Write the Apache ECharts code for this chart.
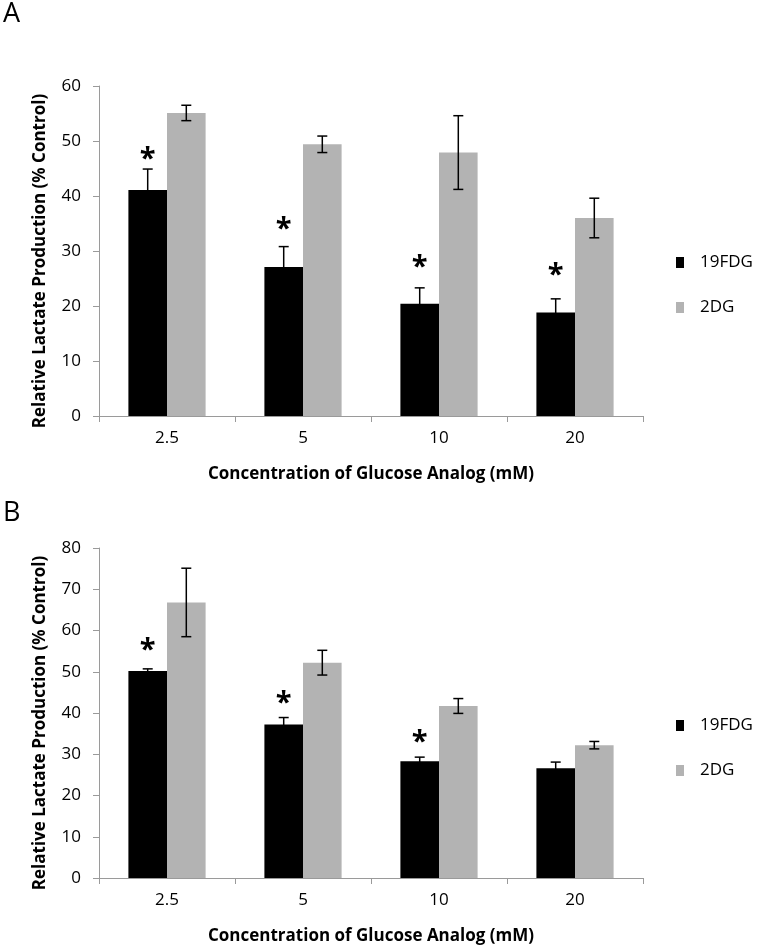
<!DOCTYPE html>
<html>
<head>
<meta charset="utf-8">
<script src="https://cdn.jsdelivr.net/npm/echarts@6/dist/echarts.min.js"></script>
<style>html,body{margin:0;padding:0;background:#fff;}#c{width:759px;height:951px;}</style>
</head>
<body>
<div id="c"></div>
<script>
// ---- data ----
var categories = ['2.5', '5', '10', '20'];
var seriesNames = ['19FDG', '2DG'];
// Panel A
var a19FDG = [41.1, 27.1, 20.4, 18.8];
var a19FDGErr = [3.8, 3.7, 2.9, 2.5];
var a2DG = [55.1, 49.4, 47.9, 36.0];
var a2DGErr = [1.4, 1.5, 6.7, 3.6];
var aStarLevel = [48.0, 35.3, 28.4, 26.9];      // height of the significance asterisk
// Panel B
var b19FDG = [50.2, 37.2, 28.3, 26.6];
var b19FDGErr = [0.5, 1.7, 1.0, 1.5];
var b2DG = [66.8, 52.2, 41.7, 32.2];
var b2DGErr = [8.3, 3.0, 1.8, 0.9];
var bStarLevel = [57.0, 44.0, 34.7, null];
var aYTicks = {min: 0, max: 60, interval: 10};
var bYTicks = {min: 0, max: 80, interval: 10};
var xTitle = 'Concentration of Glucose Analog (mM)';
var yTitle = 'Relative Lactate Production (% Control)';

// ---- styling ----
var FONT = '"Open Sans", "Noto Sans", sans-serif';
var BLACK = '#000000';
var GRAY = '#b3b3b3';
var AXIS = '#9a9a9a';
var BAR_W = 38.6;

var chart = echarts.init(document.getElementById('c'), null, {renderer: 'canvas'});

function grid(top) {
  return {left: 99, width: 544, top: top, height: 330, containLabel: false};
}
function xAxis(gi) {
  return {
    type: 'category', gridIndex: gi, data: categories,
    axisLine: {lineStyle: {color: AXIS, width: 1}},
    axisTick: {show: true, length: 6, lineStyle: {color: AXIS}},
    axisLabel: {color: '#000', fontFamily: FONT, fontSize: 17, margin: 14},
    name: xTitle, nameLocation: 'middle', nameGap: 50,
    nameTextStyle: {color: '#000', fontFamily: FONT, fontSize: 17, fontWeight: 'bold'}
  };
}
function yAxis(gi, t) {
  return {
    type: 'value', gridIndex: gi, min: t.min, max: t.max, interval: t.interval,
    splitLine: {show: false},
    axisLine: {show: true, lineStyle: {color: AXIS, width: 1}},
    axisTick: {show: true, length: 6, lineStyle: {color: AXIS}},
    axisLabel: {color: '#000', fontFamily: FONT, fontSize: 17, margin: 18},
    name: yTitle, nameLocation: 'middle', nameGap: 50,
    nameTextStyle: {color: '#000', fontFamily: FONT, fontSize: 17, fontWeight: 'bold', padding: [0, 20, 0, 0]}
  };
}
function bars(gi, v1, v2) {
  return [
    {name: seriesNames[0], type: 'bar', xAxisIndex: gi, yAxisIndex: gi, data: v1,
     barWidth: BAR_W, barGap: '0%', itemStyle: {color: BLACK}, silent: true},
    {name: seriesNames[1], type: 'bar', xAxisIndex: gi, yAxisIndex: gi, data: v2,
     barWidth: BAR_W, barGap: '0%', itemStyle: {color: GRAY}, silent: true}
  ];
}
function errSeries(gi, vals, errs, side) {
  var data = vals.map(function (v, i) { return [i, v, errs[i]]; });
  return {
    type: 'custom', xAxisIndex: gi, yAxisIndex: gi, data: data, silent: true, z: 5,
    renderItem: function (params, api) {
      var i = api.value(0), v = api.value(1), e = api.value(2);
      var off = side * BAR_W / 2;
      var hi = api.coord([i, v + e]);
      var lo = api.coord([i, v - e]);
      var x = hi[0] + off;
      var cap = 5;
      var st = {stroke: '#000', lineWidth: 1.5};
      return {type: 'group', children: [
        {type: 'line', shape: {x1: x, y1: hi[1], x2: x, y2: lo[1]}, style: st},
        {type: 'line', shape: {x1: x - cap, y1: hi[1], x2: x + cap, y2: hi[1]}, style: st},
        {type: 'line', shape: {x1: x - cap, y1: lo[1], x2: x + cap, y2: lo[1]}, style: st}
      ]};
    }
  };
}
function starSeries(gi, levels) {
  var data = [];
  levels.forEach(function (v, i) { if (v != null) data.push([i, v]); });
  return {
    type: 'custom', xAxisIndex: gi, yAxisIndex: gi, data: data, silent: true, z: 6,
    renderItem: function (params, api) {
      var p = api.coord([api.value(0), api.value(1)]);
      return {type: 'text', x: p[0] - BAR_W / 2, y: p[1] + 22,
        style: {text: '*', fill: '#000', font: 'bold 29px ' + FONT, align: 'center', verticalAlign: 'bottom'}};
    }
  };
}
function legend(top) {
  return {
    orient: 'vertical', left: 676, top: top, padding: 0, itemWidth: 8, itemHeight: 11, itemGap: 28,
    icon: 'rect', data: seriesNames, selectedMode: false,
    textStyle: {color: '#000', fontFamily: FONT, fontSize: 17, padding: [0, 0, 0, 11]}
  };
}

var option = {
  backgroundColor: '#fff',
  animation: false,
  grid: [grid(86), grid(548)],
  xAxis: [xAxis(0), xAxis(1)],
  yAxis: [yAxis(0, aYTicks), yAxis(1, bYTicks)],
  legend: [legend(254), legend(717)],
  graphic: [
    {type: 'text', left: 3, top: 1, style: {text: 'A', fill: '#000', font: '27px ' + FONT}},
    {type: 'text', left: 3, top: 500, style: {text: 'B', fill: '#000', font: '27px ' + FONT}}
  ],
  series: [].concat(
    bars(0, a19FDG, a2DG),
    [errSeries(0, a19FDG, a19FDGErr, -1), errSeries(0, a2DG, a2DGErr, 1), starSeries(0, aStarLevel)],
    bars(1, b19FDG, b2DG),
    [errSeries(1, b19FDG, b19FDGErr, -1), errSeries(1, b2DG, b2DGErr, 1), starSeries(1, bStarLevel)]
  )
};
chart.setOption(option);
</script>
</body>
</html>
